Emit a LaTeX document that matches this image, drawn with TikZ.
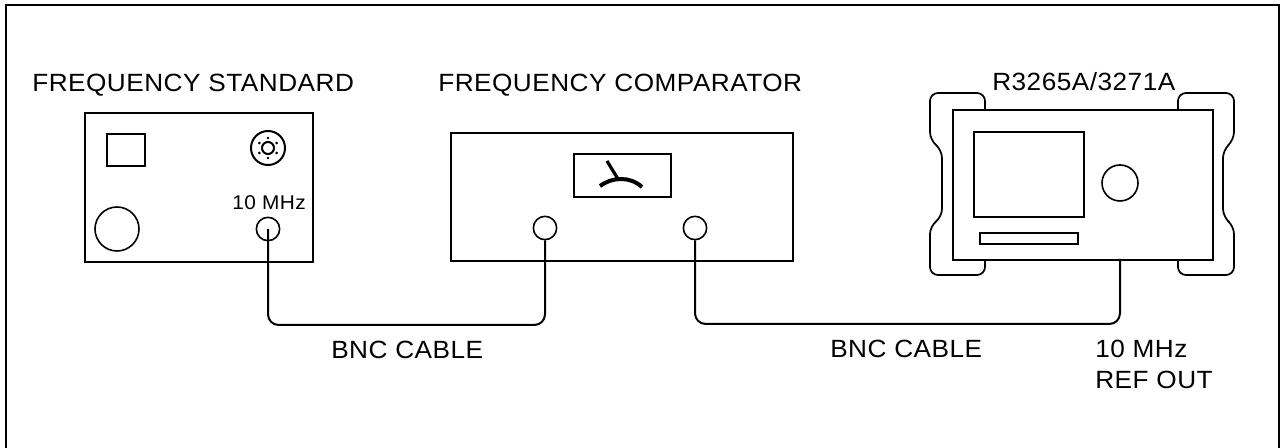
\documentclass[tikz,border=0pt]{standalone}
\usepackage{fontspec}
\setmainfont{Liberation Sans}
\newfontfamily\lblfont[FakeStretch=1.05,LetterSpace=2]{Liberation Sans}
\newcommand{\PX}{0.75pt}
\tikzset{
  x=0.75pt,y=-0.75pt,
  thin ln/.style={draw=black,line width=1.3pt},
  cable/.style={draw=black,line width=1.5pt,rounded corners=8pt},
  lbl/.style={inner sep=0pt,font=\lblfont\fontsize{18.7}{22}\selectfont,text=black},
  small lbl/.style={inner sep=0pt,font=\lblfont\fontsize{14.9}{17}\selectfont,text=black},
  port/.style={circle,draw=black,line width=1.2pt,inner sep=0pt,minimum size=17.5pt,fill=white},
  boxn/.style={rectangle,draw=black,line width=1.5pt,inner sep=0pt,fill=white},
}
\begin{document}
\begin{tikzpicture}
\useasboundingbox (0,0) rectangle (1286,448);
\fill[white] (0,0) rectangle (1286,448);
\draw[black,line width=1.7pt] (6,448) -- (6,5) -- (1279,5) -- (1279,448);
% titles
\node[lbl,anchor=base west] (t1) at (32,92) {FREQUENCY STANDARD};
\node[lbl,anchor=base west] (t2) at (438,92) {FREQUENCY COMPARATOR};
\node[lbl,anchor=base west] (t3) at (992,91) {R3265A/3271A};
% frequency standard
\node[boxn,minimum width=228*\PX,minimum height=149*\PX,anchor=north west] (fs) at (84,112) {};
\node[boxn,line width=1.2pt,minimum width=38*\PX,minimum height=32*\PX,anchor=north west] (fssq) at (106,133) {};
\node[port,line width=1.5pt,minimum size=25.5pt] (fsknob) at (268,148) {};
\node[circle,draw=black,line width=1.5pt,inner sep=0pt,minimum size=9pt] (fsknobin) at (268,148) {};
\foreach \a in {0,60,...,300} \fill[black] (fsknobin.center) ++({10*cos(\a+30)},{10*sin(\a+30)}) circle (1.1pt);
\node[port,minimum size=33pt] (fsbig) at (117,229) {};
\node[port] (fsport) at (268,229) {};
\node[small lbl,anchor=base west] (t10) at (232,210) {10 MHz};
% comparator
\node[boxn,minimum width=342*\PX,minimum height=128*\PX,anchor=north west] (fc) at (450,132) {};
\node[boxn,minimum width=97*\PX,minimum height=43*\PX,anchor=north west] (meter) at (573,153) {};
\draw[line width=3pt] (600,186) .. controls (612,177) and (630,176) .. (642,187);
\draw[line width=2.4pt] (607,161) -- (618,179);
\node[port] (cp1) at (545,228) {};
\node[port] (cp2) at (695,228) {};
% analyser handles
\draw[thin ln,rounded corners=6pt] (985,109) -- (985,93) -- (930,93) -- (930,140) -- (942,150) -- (942,217) -- (930,226) -- (930,275) -- (985,275) -- (985,259);
\draw[thin ln,rounded corners=6pt] (1178,109) -- (1178,93) -- (1234,93) -- (1234,140) -- (1223,150) -- (1223,217) -- (1234,226) -- (1234,275) -- (1178,275) -- (1178,259);
\node[boxn,minimum width=260*\PX,minimum height=150*\PX,anchor=north west] (an) at (952,109) {};
\node[boxn,minimum width=110*\PX,minimum height=85*\PX,anchor=north west] (screen) at (973,131) {};
\node[port,minimum size=27pt] (anknob) at (1120,183) {};
\node[boxn,line width=1.2pt,minimum width=98*\PX,minimum height=11*\PX,anchor=north west] (slot) at (979,232) {};
% cables
\coordinate (k1) at (268,325);
\coordinate (k2) at (545,325);
\coordinate (k3) at (695,324);
\coordinate (k4) at (1120,324);
\coordinate (k5) at (1120,259);
\draw[cable] (fsport.center) -- (k1) -- (k2) -- (cp1.south);
\draw[cable] (cp2.south) -- (k3) -- (k4) -- (k5);
% labels
\node[lbl,anchor=base west] (b1) at (331,359) {BNC CABLE};
\node[lbl,anchor=base west] (b2) at (830,358) {BNC CABLE};
\node[lbl,anchor=base west] (r1) at (1095,358) {10 MHz};
\node[lbl,anchor=base west] (r2) at (1095,389) {REF OUT};
\end{tikzpicture}
\end{document}
